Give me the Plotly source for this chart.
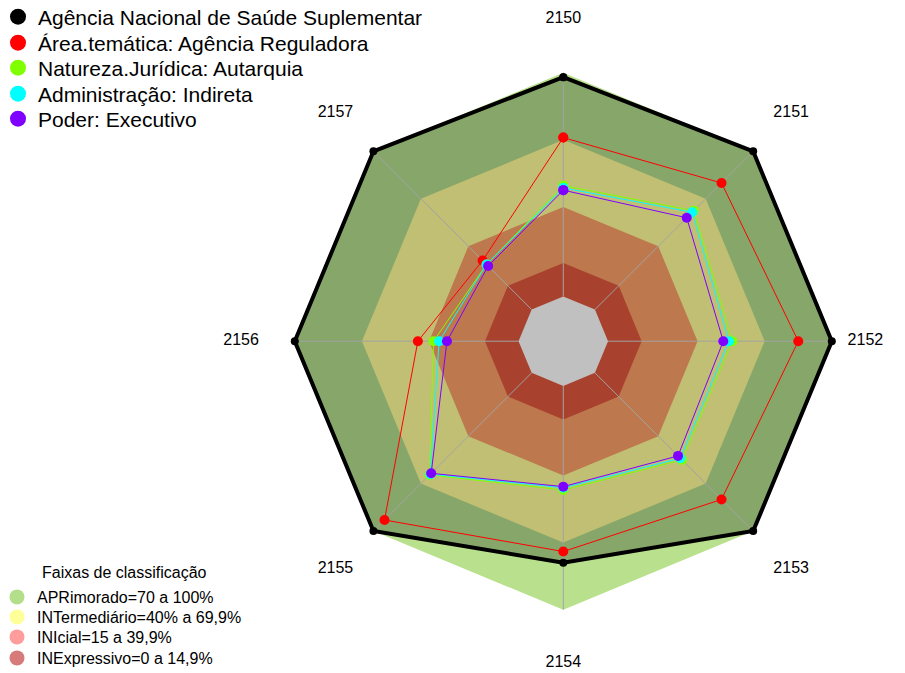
"""Radar chart: classification bands vs. evaluated groups (2150-2157)."""

import plotly.graph_objects as go

# Axes of the radar, clockwise from the top
categories = ["2150", "2151", "2152", "2153", "2154", "2155", "2156", "2157"]
# Radial position of each axis label
label_r = [124, 124, 115, 124, 124, 124, 124, 124]

# Series values (percent)
series_names = [
    "Agência Nacional de Saúde Suplementar",
    "Área.temática: Agência Reguladora",
    "Natureza.Jurídica: Autarquia",
    "Administração: Indireta",
    "Poder: Executivo",
]
ans_values = [98, 100, 100, 100, 79, 100, 100, 100]
area_values = [71, 80, 85, 80, 74, 93, 45, 31]
natureza_values = [49.5, 62.5, 55.5, 55, 46.5, 64.5, 38, 28.5]
administracao_values = [48.5, 61.5, 54, 54, 45.5, 64, 35.5, 28.5]
poder_values = [47.5, 58, 51.5, 52.5, 45, 63.5, 32, 27.5]
series_colors = ["#000000", "#FF0000", "#80FF00", "#00FFFF", "#8000FF"]

# Classification bands
band_title = "Faixas de classificação"
band_names = [
    "APRimorado=70 a 100%",
    "INTermediário=40% a 69,9%",
    "INIcial=15 a 39,9%",
    "INExpressivo=0 a 14,9%",
]
band_upper = [100, 70, 40, 15]
band_legend_colors = ["#B3DE8A", "#FFFF99", "#FF9D9D", "#D77A7A"]

W, H = 905, 673
PAGE_OFFSET = 8  # the page body margin shifts the figure by this many pixels


def closed(values):
    return list(values) + [values[0]]


def paper_y(px):
    return 1 - (px - PAGE_OFFSET) / H


def paper_x(px):
    return (px - PAGE_OFFSET) / W


theta_closed = closed(categories)
fig = go.Figure()

# Outer band (visible only outside the first series polygon)
fig.add_trace(
    go.Scatterpolar(
        r=closed([band_upper[0]] * len(categories)),
        theta=theta_closed,
        mode="lines",
        line={"width": 0},
        fill="toself",
        fillcolor="#B9E08C",
        showlegend=False,
        hoverinfo="skip",
    )
)
# First series area darkens the bands below it
fig.add_trace(
    go.Scatterpolar(
        r=closed(ans_values),
        theta=theta_closed,
        mode="lines",
        line={"width": 0},
        fill="toself",
        fillcolor="#87A66A",
        showlegend=False,
        hoverinfo="skip",
    )
)
# Inner bands, as seen under the first series area
inner_fills = ["#C0BF73", "#BE784E", "#A8412D", "#C0C0C0"]
for upper, color in zip(band_upper[1:] + [0], inner_fills):
    fig.add_trace(
        go.Scatterpolar(
            r=closed([upper] * len(categories)),
            theta=theta_closed,
            mode="lines",
            line={"width": 0},
            fill="toself",
            fillcolor=color,
            showlegend=False,
            hoverinfo="skip",
        )
    )

# Spokes from the zero ring to the outer edge
spoke_theta, spoke_r = [], []
for cat in categories:
    spoke_theta += [cat, cat, None]
    spoke_r += [0, 100, None]
fig.add_trace(
    go.Scatterpolar(
        r=spoke_r,
        theta=spoke_theta,
        mode="lines",
        line={"color": "#A3A3A3", "width": 1},
        showlegend=False,
        hoverinfo="skip",
    )
)

# Data series
all_values = [ans_values, area_values, natureza_values, administracao_values, poder_values]
for i, (name, values, color) in enumerate(zip(series_names, all_values, series_colors)):
    fig.add_trace(
        go.Scatterpolar(
            r=closed(values),
            theta=theta_closed,
            name=name,
            mode="lines+markers",
            line={"color": color, "width": 4 if i == 0 else 1},
            marker={"color": color, "size": 8 if i == 0 else 10},
            showlegend=False,
        )
    )

# Axis labels outside the outer ring
fig.add_trace(
    go.Scatterpolar(
        r=label_r,
        theta=categories,
        mode="text",
        text=categories,
        textfont={"size": 16, "color": "#000000"},
        showlegend=False,
        hoverinfo="skip",
    )
)

# Legend entries: one small legend per entry so the row spacing can follow the original
legends = {}
series_rows = [17, 43, 68, 94, 119]
band_rows = [597, 617, 637, 658]
entries = [(n, c, y, -10, 21, 16) for n, c, y in zip(series_names, series_colors, series_rows)]
entries += [(n, c, y, -11, 16, 15) for n, c, y in zip(band_names, band_legend_colors, band_rows)]
for k, (name, color, row_y, leg_x, font_size, msize) in enumerate(entries):
    key = "legend" if k == 0 else f"legend{k + 1}"
    fig.add_trace(
        go.Scatterpolar(
            r=[None],
            theta=[None],
            name=name,
            mode="markers",
            marker={"color": color, "size": msize},
            legend=key,
        )
    )
    legends[key] = {
        "x": leg_x / W,
        "y": paper_y(row_y),
        "xanchor": "left",
        "yanchor": "middle",
        "font": {"size": font_size},
        "bgcolor": "rgba(0,0,0,0)",
    }

fig.add_annotation(
    text=band_title,
    x=paper_x(124),
    y=paper_y(572),
    xref="paper",
    yref="paper",
    xanchor="center",
    yanchor="middle",
    showarrow=False,
    font={"size": 16},
)

# Polar area: centre (563, 341) on the page, outer ring radius ~268 px
cx, cy, half = 563.3, 341.2, 326.7
fig.update_layout(
    width=W,
    height=H,
    margin={"l": 0, "r": 0, "t": 0, "b": 0, "autoexpand": False},
    paper_bgcolor="white",
    plot_bgcolor="white",
    font={"family": "Liberation Sans, Arial, sans-serif", "color": "#000000"},
    polar={
        "domain": {
            "x": [paper_x(cx - half), paper_x(cx + half)],
            "y": [paper_y(cy + half), paper_y(cy - half)],
        },
        "bgcolor": "rgba(0,0,0,0)",
        "radialaxis": {"range": [-20, 126], "visible": False},
        "angularaxis": {
            "type": "category",
            "categoryarray": categories,
            "direction": "clockwise",
            "rotation": 90,
            "visible": False,
        },
    },
    **legends,
)

fig.write_html("out.html")
